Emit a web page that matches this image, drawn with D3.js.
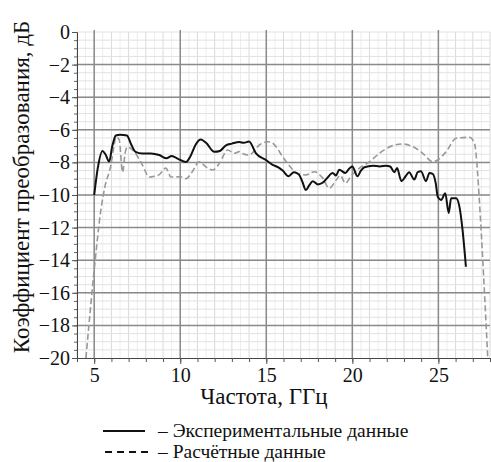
<!DOCTYPE html>
<meta charset="utf-8">
<style>
    body {
        margin:0;
        background:#fff;
    }
    svg, svg text {
        font-family:'Liberation Serif', 'Times New Roman', serif !important;
    }
    svg text { fill:#111; }
    .domain { stroke:#444; }
</style>
<body>
<script src="https://cdn.jsdelivr.net/npm/d3@7"></script>
<script>
var width = 491, height = 462;
var margin = {left:77, top:32, right:1, bottom:104};
var serif = "'Liberation Serif', 'Times New Roman', serif";

// experimental data (solid)
var expF  = [5.0, 5.2, 5.48, 5.65, 5.87, 6.05, 6.26, 6.5, 6.9, 7.15, 7.4, 7.8, 8.3, 8.78, 9.2, 9.5, 9.9, 10.33,
             10.6, 10.9, 11.2, 11.5, 11.98, 12.3, 12.66, 13.0, 13.43, 13.7, 14.0, 14.4, 14.98, 15.37, 15.7, 15.95,
             16.3, 16.6, 16.9, 17.1, 17.3, 17.5, 17.7, 18.0, 18.27, 18.5, 18.86, 19.05, 19.24, 19.6, 19.8, 20.0,
             20.3, 20.5, 20.7, 21.2, 21.6, 21.96, 22.2, 22.44, 22.6, 22.85, 23.1, 23.3, 23.6, 23.8, 23.99, 24.28,
             24.48, 24.67, 24.85, 24.96, 25.16, 25.4, 25.6, 25.74, 26.03, 26.22, 26.4, 26.6];
var expdB = [-10.0, -8.4, -7.3, -7.5, -7.95, -7.0, -6.35, -6.3, -6.35, -6.9, -7.35, -7.45, -7.45, -7.55, -7.75, -7.6, -7.8, -7.98,
             -7.6, -6.9, -6.6, -6.8, -7.35, -7.3, -6.95, -6.85, -6.75, -6.8, -6.72, -7.45, -7.85, -8.15, -8.3, -8.5,
             -8.85, -8.6, -8.75, -9.2, -9.7, -9.4, -9.15, -9.35, -9.25, -9.0, -8.65, -8.8, -8.45, -8.65, -8.4, -8.25,
             -8.85, -8.5, -8.3, -8.2, -8.25, -8.2, -8.25, -8.6, -8.35, -9.15, -8.85, -8.6, -9.05, -8.6, -8.55, -9.15,
             -8.65, -8.7, -9.3, -10.1, -10.3, -9.9, -11.1, -10.2, -10.2, -10.7, -12.1, -14.4];

// calculated data (dashed)
var calcF  = [4.52, 5.0, 5.39, 5.62, 5.97, 6.15, 6.26, 6.45, 6.65, 6.8, 6.94, 7.33, 7.8, 8.2, 8.5, 8.78, 9.17, 9.46,
              10.04, 10.33, 10.7, 11.1, 11.3, 11.6, 11.88, 12.27, 12.75, 13.14, 13.43, 13.62, 14.0, 14.6, 15.08, 15.3,
              15.56, 15.95, 16.34, 16.8, 17.3, 17.8, 18.27, 18.66, 19.05, 19.3, 19.6, 19.9, 20.4, 21.0, 21.57, 22.35,
              22.92, 23.5, 24.09, 24.67, 24.96, 25.45, 26.03, 26.8, 27.1, 27.28, 27.38, 27.87];
var calcdB = [-20, -14.6, -10.9, -9.5, -8.16, -7.0, -6.45, -6.6, -8.6, -7.4, -7.05, -7.35, -8.16, -8.9, -8.85, -8.75, -8.35, -8.9,
              -8.88, -9.0, -8.57, -7.96, -8.1, -8.36, -8.47, -8.06, -7.24, -7.44, -7.34, -7.45, -7.55, -6.93, -6.73, -6.77,
              -7.03, -7.65, -8.2, -8.67, -8.77, -8.57, -8.95, -9.59, -9.1, -8.8, -9.28, -8.88, -8.36, -7.96, -7.44, -6.97,
              -6.87, -7.03, -7.44, -7.96, -7.85, -7.34, -6.52, -6.46, -6.83, -8.67, -10.3, -20];

var xTicks = [5, 10, 15, 20, 25];
var yTicks = [0, -2, -4, -6, -8, -10, -12, -14, -16, -18, -20];
var legendLabels = ['– Экспериментальные данные', '– Расчётные данные'];

var svg = d3.select("body").append("svg")
    .attr("width", width)
    .attr("height", height)
    .style("font-family", serif);

var x = d3.scaleLinear().domain([4, 28]).range([margin.left, width - margin.right]);
var y = d3.scaleLinear().domain([-20, 0]).range([height - margin.bottom, margin.top]);

var grid = svg.append("g");
// fine grid
grid.selectAll(".vf").data(d3.range(4.5, 28, 1)).enter().append("line")
    .attr("x1", x).attr("x2", x).attr("y1", y(0)).attr("y2", y(-20))
    .attr("stroke", "#eeeeee").attr("stroke-width", 1);
grid.selectAll(".vm").data(d3.range(4, 28.01, 1)).enter().append("line")
    .attr("x1", x).attr("x2", x).attr("y1", y(0)).attr("y2", y(-20))
    .attr("stroke", "#dadada").attr("stroke-width", 1);
grid.selectAll(".hm").data(d3.range(-19.5, 0.01, 0.5)).enter().append("line")
    .attr("x1", x(4)).attr("x2", x(28)).attr("y1", y).attr("y2", y)
    .attr("stroke", "#e2e2e2").attr("stroke-width", 1);
// major grid
grid.selectAll(".vM").data(xTicks).enter().append("line")
    .attr("x1", x).attr("x2", x).attr("y1", y(0) - 2).attr("y2", y(-20))
    .attr("stroke", "#8a8a8a").attr("stroke-width", 1.5);
grid.selectAll(".hM").data(yTicks.slice(1, -1)).enter().append("line")
    .attr("x1", x(4)).attr("x2", x(28)).attr("y1", y).attr("y2", y)
    .attr("stroke", "#8a8a8a").attr("stroke-width", 1.5);

// axes
svg.append("g")
    .attr("transform", "translate(0," + y(-20) + ")")
    .call(d3.axisBottom(x).tickValues(d3.range(4, 28.01, 1)).tickSize(4).tickFormat(""))
    .call(g => g.selectAll("line").attr("stroke", "#555"));
svg.append("g")
    .attr("transform", "translate(0," + y(-20) + ")")
    .call(d3.axisBottom(x).tickValues(xTicks).tickSize(6).tickPadding(4))
    .attr("font-family", serif)
    .call(g => g.select(".domain").remove())
    .call(g => g.selectAll("line").attr("stroke", "#555"))
    .call(g => g.selectAll("text").attr("font-size", 20).style("font-family", serif));

svg.append("g")
    .attr("transform", "translate(" + x(4) + ",0)")
    .call(d3.axisLeft(y).tickValues(d3.range(-20, 0.01, 0.5)).tickSize(3).tickFormat(""))
    .call(g => g.selectAll("line").attr("stroke", "#666"));
svg.append("g")
    .attr("transform", "translate(" + x(4) + ",0)")
    .call(d3.axisLeft(y).tickValues(yTicks).tickSize(5).tickPadding(2))
    .attr("font-family", serif)
    .call(g => g.select(".domain").remove())
    .call(g => g.selectAll("line").attr("stroke", "#555"))
    .call(g => g.selectAll("text").attr("font-size", 20).style("font-family", serif));

// lines
var line = d3.line()
    .x(d => x(d[0]))
    .y(d => y(d[1]))
    .curve(d3.curveMonotoneX);

svg.append("path")
    .datum(d3.zip(calcF, calcdB))
    .attr("fill", "none")
    .attr("stroke", "#999")
    .attr("stroke-width", 1.6)
    .attr("stroke-dasharray", "6,3")
    .attr("d", line);

svg.append("path")
    .datum(d3.zip(expF, expdB))
    .attr("fill", "none")
    .attr("stroke", "#111")
    .attr("stroke-width", 2)
    .attr("d", line);

// titles
svg.append("text")
    .attr("x", 264).attr("y", 404)
    .attr("text-anchor", "middle")
    .attr("font-size", 23)
    .text("Частота, ГГц");

svg.append("text")
    .attr("transform", "translate(29," + 187 + ") rotate(-90)")
    .attr("text-anchor", "middle")
    .attr("font-size", 23)
    .text("Коэффициент преобразования, дБ");

// legend
var legend = svg.append("g");
legend.append("line")
    .attr("x1", 103).attr("x2", 145).attr("y1", 431).attr("y2", 431)
    .attr("stroke", "#111").attr("stroke-width", 2);
legend.append("line")
    .attr("x1", 105).attr("x2", 148).attr("y1", 452).attr("y2", 452)
    .attr("stroke", "#111").attr("stroke-width", 2)
    .attr("stroke-dasharray", "7,5");
legend.selectAll("text").data(legendLabels).enter().append("text")
    .attr("x", 158)
    .attr("y", (d, i) => 437 + i * 21)
    .attr("font-size", 19.5)
    .text(d => d);
</script>
</body>
